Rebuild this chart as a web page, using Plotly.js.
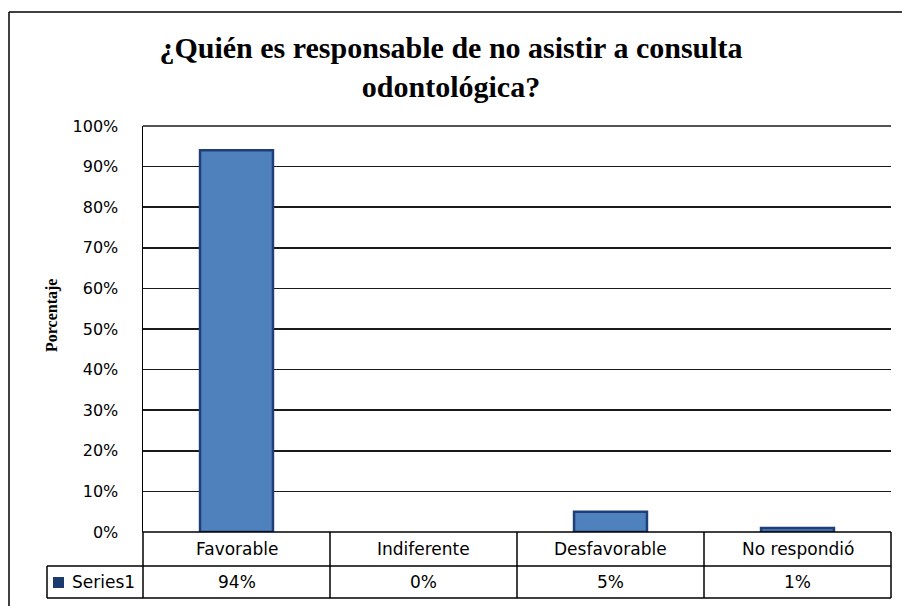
<!DOCTYPE html>
<html>
<head>
<meta charset="utf-8">
<script src="https://cdn.plot.ly/plotly-3.0.1.min.js"></script>
<style>
html,body{margin:0;padding:0;background:#fff;}
#chart{width:902px;height:606px;}
</style>
</head>
<body>
<div id="chart"></div>
<script>
const categories = ['Favorable', 'Indiferente', 'Desfavorable', 'No respondió'];
const values = [94, 0, 5, 1];
const seriesName = 'Series1';
const yTicks = [0, 10, 20, 30, 40, 50, 60, 70, 80, 90, 100];

// pixel helpers (layout only)
const L = 143, R = 891, T = 126, B = 532, W = 902, H = 606;
const px = x => (x - L) / (R - L);
const py = y => (B - y) / (B - T);

const sansFont = {family: 'DejaVu Sans, Verdana, sans-serif', size: 16, color: '#000'};
const catFont = {family: 'DejaVu Sans, Verdana, sans-serif', size: 17, color: '#000'};

const trace = {
  type: 'bar',
  x: categories,
  y: values,
  name: seriesName,
  marker: {color: '#4f81bd', line: {color: '#1f3f78', width: values.map(v => v > 0 ? 2.5 : 0)}},
  showlegend: false,
  hoverinfo: 'x+y'
};

const shapes = [];
const lineStyle = {color: '#000', width: 1.5};
// outer frame (left and top)
shapes.push({type: 'line', xref: 'paper', yref: 'paper', x0: px(9), x1: px(9), y0: py(12), y1: py(620), line: lineStyle});
shapes.push({type: 'line', xref: 'paper', yref: 'paper', x0: px(9), x1: px(920), y0: py(12), y1: py(12), line: lineStyle});
// top gridline (100%)
shapes.push({type: 'line', xref: 'paper', yref: 'paper', x0: 0, x1: 1, y0: 1, y1: 1, line: {color: '#1a1a1a', width: 1.5}});
// data table
const n = categories.length;
for (let k = 0; k <= n; k++) {
  shapes.push({type: 'line', xref: 'paper', yref: 'paper', x0: k / n, x1: k / n, y0: 0, y1: py(598), line: lineStyle});
}
shapes.push({type: 'line', xref: 'paper', yref: 'paper', x0: 0, x1: 1, y0: 0, y1: 0, line: lineStyle});
shapes.push({type: 'line', xref: 'paper', yref: 'paper', x0: px(47), x1: 1, y0: py(566), y1: py(566), line: lineStyle});
shapes.push({type: 'line', xref: 'paper', yref: 'paper', x0: px(47), x1: 1, y0: py(598), y1: py(598), line: lineStyle});
shapes.push({type: 'line', xref: 'paper', yref: 'paper', x0: px(47), x1: px(47), y0: py(566), y1: py(598), line: lineStyle});
// legend key square
shapes.push({type: 'rect', xref: 'paper', yref: 'paper', x0: px(53), x1: px(64), y0: py(588), y1: py(577), fillcolor: '#1c3a6e', line: {width: 0}});

const annotations = [];
categories.forEach((c, i) => {
  annotations.push({xref: 'x', yref: 'paper', x: c, y: py(549), text: c, showarrow: false, xanchor: 'center', yanchor: 'middle', font: catFont});
  annotations.push({xref: 'x', yref: 'paper', x: c, y: py(582), text: values[i] + '%', showarrow: false, xanchor: 'center', yanchor: 'middle', font: catFont});
});
annotations.push({xref: 'paper', yref: 'paper', x: px(70), y: py(582), text: seriesName, showarrow: false, xanchor: 'left', yanchor: 'middle', font: catFont});
annotations.push({xref: 'paper', yref: 'paper', x: px(52), y: py(316), text: '<b>Porcentaje</b>', textangle: -90, showarrow: false, xanchor: 'center', yanchor: 'middle',
  font: {family: 'Liberation Serif, Times New Roman, serif', size: 16, color: '#000'}});

const layout = {
  width: W, height: H,
  margin: {l: L, r: W - R, t: T, b: H - B, pad: 0},
  paper_bgcolor: '#fff',
  plot_bgcolor: '#fff',
  title: {
    text: '<b>¿Quién es responsable de no asistir a consulta<br>odontológica?</b>',
    font: {family: 'Liberation Serif, Times New Roman, serif', size: 30, color: '#000'},
    x: 0.5, xref: 'container', xanchor: 'center',
    y: 1 - 58 / H, yref: 'container', yanchor: 'top'
  },
  bargap: 0.61,
  xaxis: {
    type: 'category',
    showticklabels: false,
    showgrid: false,
    zeroline: false,
    showline: false,
    ticks: '',
    fixedrange: true
  },
  yaxis: {
    range: [0, 100],
    tickvals: yTicks,
    ticktext: yTicks.map(v => v + '%'),
    showgrid: true,
    gridcolor: '#1a1a1a',
    gridwidth: 1.5,
    zeroline: false,
    showline: true,
    linecolor: '#000',
    linewidth: 1.5,
    ticks: '',
    ticklabelstandoff: 20,
    tickfont: sansFont,
    fixedrange: true
  },
  shapes: shapes,
  annotations: annotations,
  showlegend: false
};

Plotly.newPlot('chart', [trace], layout, {displayModeBar: false, staticPlot: true});
</script>
</body>
</html>
